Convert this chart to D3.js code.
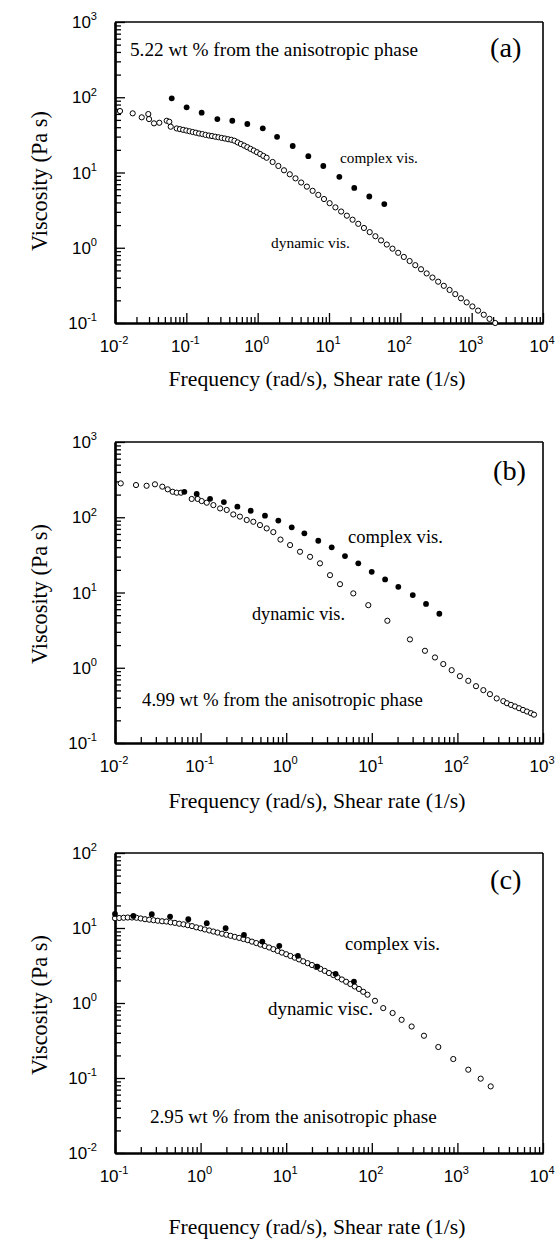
<!DOCTYPE html>
<html><head><meta charset="utf-8">
<script src="https://cdn.jsdelivr.net/npm/d3@7"></script>
<style>body{margin:0;background:#fff}svg{display:block}</style>
</head><body>
<svg id="chart" width="559" height="1240"></svg>
<script>
// ---------- DATA ----------
// Panel (a) 5.22 wt %
const aCpxFreq = [0.0624,0.101,0.164,0.272,0.441,0.716,1.18,1.87,3.10,5.13,8.32,13.96,22.6,36.7,59.6];
const aCpxVisc = [96.7,73.4,62.3,51.3,48.7,44.1,38.6,29.8,22.5,16.5,12.2,8.77,6.24,4.80,3.80];
const aDynFreq = [0.01175,0.0177,0.0237,0.0293,0.0300,0.0352,0.0418,0.0531,0.0577,0.0604,
  0.0733,0.0813,0.0902,0.100,0.111,0.123,0.136,0.151,0.168,0.186,0.207,0.229,0.254,0.282,0.313,
  0.347,0.385,0.427,0.473,0.525,0.582,0.646,0.716,0.794,0.881,0.977,1.084,1.202,1.334,
  1.62,1.95,2.34,2.82,3.39,4.07,4.90,5.89,7.08,8.51,10.2,12.3,14.8,17.8,21.4,25.7,30.9,37.2,44.7,53.7,
  64.6,77.6,93.3,112,135,162,195,234,282,339,407,490,589,708,851,1023,1230,1479,1778,2138];
const aDynVisc = [65.6,61.1,54.1,59.8,51.3,45.0,45.8,48.7,47.2,40.6,
  38.5,37.7,36.9,36.1,35.3,34.5,33.8,33.0,32.4,31.6,31.0,30.5,29.9,29.4,28.8,
  28.3,27.7,27.2,26.4,25.1,23.9,22.8,21.7,20.6,19.6,18.6,17.6,16.6,15.7,
  13.8,12.2,10.7,9.47,8.36,7.36,6.49,5.71,5.04,4.44,3.91,3.44,3.03,2.67,2.36,2.08,1.832,1.614,1.422,1.253,
  1.104,0.973,0.857,0.755,0.666,0.587,0.518,0.456,0.402,0.354,0.312,0.275,0.242,0.213,0.188,0.166,0.1462,0.1288,0.1135,0.100];

// Panel (b) 4.99 wt %
const bCpxFreq = [0.0646,0.0900,0.129,0.187,0.269,0.385,0.565,0.809,1.16,1.63,2.37,3.40,4.86,6.95,9.98,14.3,20.4,30.1,43.0,61.5];
const bCpxVisc = [218,204,176,159,138,122,105,90.4,73.4,61.1,48.7,39.8,30.5,24.4,18.8,14.9,11.9,9.23,7.05,5.22];
const bDynFreq = [0.01167,0.0176,0.0234,0.0293,0.0357,0.0413,0.0472,0.0526,0.0590,0.0787,
  0.0925,0.103,0.118,0.141,0.169,0.202,0.241,0.288,0.346,0.413,0.494,0.592,0.707,0.857,1.11,
  1.45,1.90,2.48,3.25,4.25,6.08,9.10,15.2,27.9,41.8,54.7,68.4,85.7,107,134,
  165,201,240,288,344,379,423,471,525,584,650,724,785];
const bDynVisc = [282,268,262,274,255,235,218,212,212,175,
  175,164,156,145,131,125,109,102,91.9,87.1,78.7,71.1,63.5,50.5,42.7,
  34.8,29.8,24.4,17.0,12.9,9.73,6.79,4.21,2.38,1.68,1.37,1.12,0.929,0.773,0.670,
  0.569,0.504,0.446,0.391,0.360,0.338,0.321,0.306,0.290,0.275,0.262,0.249,0.238];

// Panel (c) 2.95 wt %
const cCpxFreq = [0.100,0.164,0.269,0.440,0.718,1.18,1.96,3.21,5.26,8.30,13.7,23.1,37.8,61.9];
const cCpxVisc = [15.4,14.5,15.3,14.2,13.1,11.6,9.93,8.09,6.59,5.78,4.26,3.06,2.45,1.93];
const cDynFreq = [0.100,0.112,0.126,0.141,0.158,0.178,0.200,0.224,0.251,0.282,0.316,0.355,0.398,0.447,0.501,
  0.562,0.631,0.708,0.794,0.891,1.00,1.12,1.26,1.41,1.58,1.78,2.00,2.24,2.51,2.82,3.16,3.55,3.98,4.47,5.01,
  5.62,6.31,7.08,7.94,8.91,10.0,11.2,12.6,14.1,15.8,17.8,20.0,22.4,25.1,28.2,31.6,35.5,39.8,44.7,50.1,
  56.2,63.1,70.8,79.4,89.1,109,136,175,223,292,407,598,895,1340,1871,2449];
const cDynVisc = [13.5,13.6,13.7,13.8,13.8,13.7,13.4,13.1,12.9,12.7,12.5,12.3,12.2,11.9,11.7,
  11.4,11.2,10.9,10.6,10.2,9.91,9.57,9.27,8.97,8.69,8.39,8.13,7.87,7.62,7.38,7.13,6.89,6.58,6.30,6.01,
  5.75,5.50,5.22,4.95,4.70,4.47,4.24,4.02,3.81,3.60,3.40,3.21,3.03,2.85,2.68,2.51,2.36,2.20,2.06,1.92,
  1.79,1.66,1.54,1.41,1.29,1.07,0.855,0.735,0.597,0.486,0.366,0.259,0.179,0.129,0.098,0.0773];

// Tick label exponents
const aXExp = [-2,-1,0,1,2,3,4], aYExp = [-1,0,1,2,3];
const bXExp = [-2,-1,0,1,2,3],   bYExp = [-1,0,1,2,3];
const cXExp = [-1,0,1,2,3,4],    cYExp = [-2,-1,0,1,2];

// Texts
const xTitle = "Frequency (rad/s), Shear rate (1/s)";
const yTitle = "Viscosity (Pa s)";

// ---------- LAYOUT ----------
const L = 115, R = 543;
const SERIF = "'Liberation Serif','Times New Roman',serif";
const SANS = "'Liberation Sans',Arial,Helvetica,sans-serif";

const panels = [
  {xExp:aXExp, yExp:aYExp, top:22, bottom:323,
   dyn:[aDynFreq,aDynVisc], cpx:[aCpxFreq,aCpxVisc], xTitleY:386, yTitleC:181,
   notes:[["5.22 wt % from the anisotropic phase",130,56,288],["(a)",490,57,31.5],
          ["complex vis.",340,163,78],["dynamic vis.",271,248,79]]},
  {xExp:bXExp, yExp:bYExp, top:442, bottom:743,
   dyn:[bDynFreq,bDynVisc], cpx:[bCpxFreq,bCpxVisc], xTitleY:808, yTitleC:594,
   notes:[["4.99 wt % from the anisotropic phase",142,706,281],["(b)",493,480,33],
          ["complex vis.",348,543,95],["dynamic vis.",252,620,93]]},
  {xExp:cXExp, yExp:cYExp, top:853, bottom:1153,
   dyn:[cDynFreq,cDynVisc], cpx:[cCpxFreq,cCpxVisc], xTitleY:1234, yTitleC:1005,
   notes:[["2.95 wt % from the anisotropic phase",150,1123,287],["(c)",490,889,31.5],
          ["complex vis.",345,950,95],["dynamic visc.",268,1015,105]]}
];

const svg = d3.select("#chart");

function fit(t, w){
  const cur = t.node().getComputedTextLength();
  const fs = parseFloat(t.attr("font-size"));
  t.attr("font-size", fs * w / cur);
}
function pow10Label(t, e, fs){
  t.append("tspan").text("10");
  t.append("tspan").attr("dy", -0.45*fs).attr("font-size", fs*0.65).text(String(e));
}

panels.forEach(p => {
  const x = d3.scaleLog().domain([Math.pow(10,p.xExp[0]), Math.pow(10,p.xExp[p.xExp.length-1])]).range([L,R]);
  const y = d3.scaleLog().domain([Math.pow(10,p.yExp[0]), Math.pow(10,p.yExp[p.yExp.length-1])]).range([p.bottom,p.top]);
  const g = svg.append("g");

  const xMajor = p.xExp.map(e => Math.pow(10,e));
  const yMajor = p.yExp.map(e => Math.pow(10,e));
  const isMajor = v => Math.abs(Math.log10(v) - Math.round(Math.log10(v))) < 1e-6;
  const xMinor = x.ticks().filter(v => !isMajor(v));
  const yMinor = y.ticks().filter(v => !isMajor(v));

  g.append("line").attr("x1",L).attr("x2",R).attr("y1",p.top).attr("y2",p.top).attr("stroke","#000").attr("stroke-width",1.6);
  g.append("line").attr("x1",R).attr("x2",R).attr("y1",p.top).attr("y2",p.bottom).attr("stroke","#000").attr("stroke-width",1.6);

  const styleAxis = sel => { sel.selectAll("line").attr("stroke","#000").attr("stroke-width",1.3);
                             sel.select(".domain").attr("stroke","#000").attr("stroke-width",2.2); };
  g.append("g").attr("transform",`translate(0,${p.bottom})`)
    .call(d3.axisBottom(x).tickValues(xMinor).tickSize(-6).tickSizeOuter(0).tickFormat(""))
    .call(styleAxis);
  g.append("g").attr("transform",`translate(0,${p.bottom})`)
    .call(d3.axisBottom(x).tickValues(xMajor).tickSize(-10).tickSizeOuter(0).tickFormat(""))
    .call(styleAxis);
  g.append("g").attr("transform",`translate(${L},0)`)
    .call(d3.axisLeft(y).tickValues(yMinor).tickSize(-6).tickSizeOuter(0).tickFormat(""))
    .call(styleAxis);
  g.append("g").attr("transform",`translate(${L},0)`)
    .call(d3.axisLeft(y).tickValues(yMajor).tickSize(-10).tickSizeOuter(0).tickFormat(""))
    .call(styleAxis);

  const fsT = 17;
  p.xExp.forEach(e => {
    const t = g.append("text").attr("x", x(Math.pow(10,e)) - 1).attr("y", p.bottom + 29)
      .attr("text-anchor","middle").attr("font-family",SANS).attr("font-size",fsT);
    pow10Label(t, e, fsT);
  });
  p.yExp.forEach(e => {
    const t = g.append("text").attr("x", 97).attr("y", y(Math.pow(10,e)) + 6)
      .attr("text-anchor","end").attr("font-family",SANS).attr("font-size",fsT);
    pow10Label(t, e, fsT);
  });

  const xt = g.append("text").attr("x",317).attr("y",p.xTitleY).attr("text-anchor","middle")
    .attr("font-family",SERIF).attr("font-size",21).text(xTitle);
  fit(xt, 297);
  const yt = g.append("text").attr("transform",`translate(47,${p.yTitleC}) rotate(-90)`)
    .attr("text-anchor","middle").attr("font-family",SERIF).attr("font-size",21).text(yTitle);
  fit(yt, 140);

  const dyn = p.dyn[0].map((f,i) => [f, p.dyn[1][i]]);
  const cpx = p.cpx[0].map((f,i) => [f, p.cpx[1][i]]);
  g.append("g").selectAll("circle").data(dyn).join("circle")
    .attr("cx", d => x(d[0])).attr("cy", d => y(d[1])).attr("r", 2.6)
    .attr("fill","#fff").attr("stroke","#000").attr("stroke-width",1);
  g.append("g").selectAll("circle").data(cpx).join("circle")
    .attr("cx", d => x(d[0])).attr("cy", d => y(d[1])).attr("r", 2.9)
    .attr("fill","#000");

  p.notes.forEach(n => {
    const t = g.append("text").attr("x",n[1]).attr("y",n[2]).attr("font-family",SERIF)
      .attr("font-size",18).text(n[0]);
    fit(t, n[3]);
  });
});
</script>
</body></html>
